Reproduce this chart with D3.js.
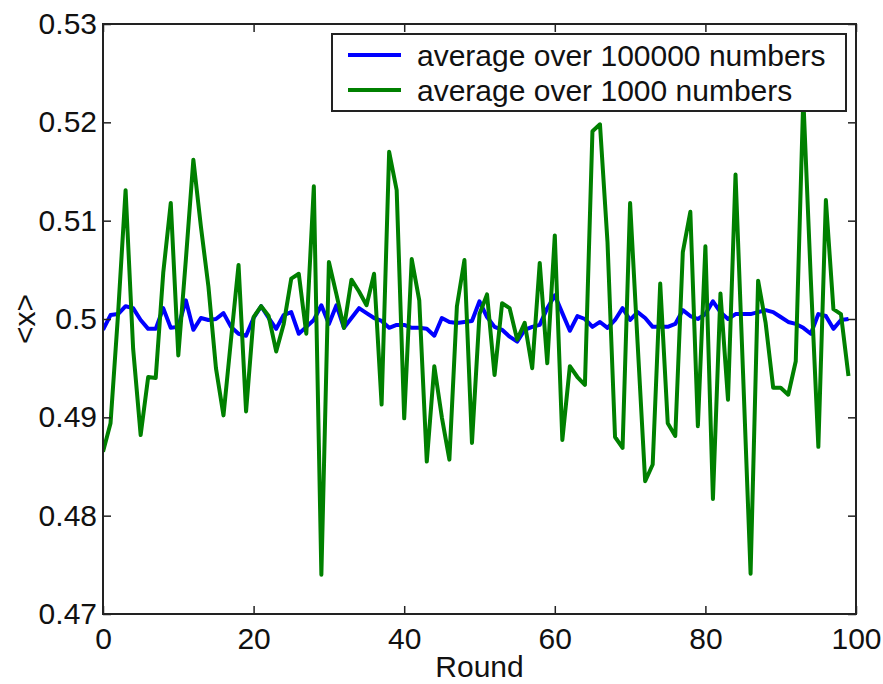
<!DOCTYPE html>
<html>
<head>
<meta charset="utf-8">
<script src="https://cdn.jsdelivr.net/npm/d3@7"></script>
<style>
  html, body { margin: 0; padding: 0; background: #fff; }
  svg { display: block; }
  text { font-family: "Liberation Sans", Arial, sans-serif; fill: #111; }
</style>
</head>
<body>
<svg id="chart"></svg>
<script>
// averages per round
const avg100000 = [
  0.4989, 0.5004, 0.5005, 0.5013, 0.5011, 0.4999, 0.4990, 0.4990, 0.5011, 0.4991,
  0.4992, 0.5019, 0.4989, 0.5001, 0.4999, 0.5000, 0.5006, 0.4992, 0.4985, 0.4983,
  0.5001, 0.5013, 0.5001, 0.4990, 0.5004, 0.5007, 0.4985, 0.4992, 0.4999, 0.5014,
  0.4995, 0.5014, 0.4991, 0.5001, 0.5011, 0.5006, 0.5001, 0.4998, 0.4991, 0.4994,
  0.4994, 0.4991, 0.4991, 0.4990, 0.4983, 0.5001, 0.4997, 0.4996, 0.4997, 0.4998,
  0.5018, 0.5002, 0.4992, 0.4989, 0.4982, 0.4977, 0.4989, 0.4992, 0.4994, 0.5011,
  0.5024, 0.5006, 0.4988, 0.5003, 0.5000, 0.4992, 0.4997, 0.4991, 0.4999, 0.5011,
  0.4999, 0.5007, 0.5001, 0.4992, 0.4992, 0.4992, 0.4995, 0.5009, 0.5003, 0.5000,
  0.5005, 0.5018, 0.5007, 0.5000, 0.5005, 0.5005, 0.5005, 0.5007, 0.5009, 0.5007,
  0.5002, 0.4997, 0.4995, 0.4991, 0.4985, 0.5005, 0.5003, 0.4990, 0.4999, 0.5000
];
const avg1000 = [
  0.4865, 0.4894, 0.5005, 0.5131, 0.4970, 0.4882, 0.4941, 0.4940, 0.5047, 0.5118,
  0.4963, 0.5060, 0.5162, 0.5094, 0.5033, 0.4950, 0.4902, 0.4979, 0.5055, 0.4906,
  0.5002, 0.5013, 0.5003, 0.4967, 0.4995, 0.5041, 0.5046, 0.4985, 0.5135, 0.4740,
  0.5058, 0.5025, 0.4991, 0.5040, 0.5028, 0.5014, 0.5046, 0.4913, 0.5170, 0.5131,
  0.4899, 0.5061, 0.5019, 0.4855, 0.4952, 0.4900, 0.4857, 0.5013, 0.5060, 0.4874,
  0.5005, 0.5025, 0.4943, 0.5016, 0.5011, 0.4979, 0.4996, 0.4950, 0.5057, 0.4955,
  0.5085, 0.4877, 0.4952, 0.4941, 0.4933, 0.5191, 0.5198, 0.5078, 0.4880, 0.4869,
  0.5118, 0.4975, 0.4835, 0.4852, 0.5036, 0.4894, 0.4881, 0.5068, 0.5109, 0.4891,
  0.5074, 0.4817, 0.5026, 0.4918, 0.5147, 0.4945, 0.4741, 0.5039, 0.4996, 0.4930,
  0.4930, 0.4923, 0.4957, 0.5225, 0.5040, 0.4870, 0.5121, 0.5010, 0.5005, 0.4942
];
const seriesNames = ["average over 100000 numbers", "average over 1000 numbers"];
const seriesColors = ["#0000ff", "#008000"];
const xTicks = [0, 20, 40, 60, 80, 100];
const yTicks = [0.47, 0.48, 0.49, 0.50, 0.51, 0.52, 0.53];
const yTickLabels = ["0.47", "0.48", "0.49", "0.5", "0.51", "0.52", "0.53"];

const width = 883, height = 684;
const margin = { top: 24, right: 27, bottom: 70, left: 103 };
const w = width - margin.left - margin.right;
const h = height - margin.top - margin.bottom;

const svg = d3.select("#chart").attr("width", width).attr("height", height);

const x = d3.scaleLinear().domain([0, 100]).range([0, w]);
const y = d3.scaleLinear().domain([0.47, 0.53]).range([h, 0]);

const g = svg.append("g").attr("transform", `translate(${margin.left},${margin.top})`);

g.append("clipPath").attr("id", "clip")
  .append("rect").attr("width", w).attr("height", h);

// lines (green drawn last, on top)
const line = d3.line().x((d, i) => x(i)).y(d => y(d));
[avg100000, avg1000].forEach((s, k) => {
  g.append("path")
    .datum(s)
    .attr("clip-path", "url(#clip)")
    .attr("fill", "none")
    .attr("stroke", seriesColors[k])
    .attr("stroke-width", 4)
    .attr("stroke-linejoin", "round")
    .attr("d", line);
});

// axes with inward ticks, mirrored on top and right
const tickLen = 8;
const fmt = (d) => yTickLabels[yTicks.indexOf(d)];
const style = sel => {
  sel.select(".domain").remove();
  sel.selectAll(".tick line").attr("stroke", "#222").attr("stroke-width", 1.5);
  sel.selectAll(".tick text").attr("font-size", 30).attr("fill", "#111")
    .attr("font-family", '"Liberation Sans", Arial, sans-serif');
};

g.append("g").attr("transform", `translate(0,${h})`)
  .call(d3.axisBottom(x).tickValues(xTicks).tickSize(-tickLen).tickPadding(14))
  .call(style);
g.append("g")
  .call(d3.axisTop(x).tickValues(xTicks).tickSize(-tickLen).tickFormat(""))
  .call(style);
g.append("g")
  .call(d3.axisLeft(y).tickValues(yTicks).tickSize(-tickLen).tickPadding(6).tickFormat(fmt))
  .call(style);
g.append("g").attr("transform", `translate(${w},0)`)
  .call(d3.axisRight(y).tickValues(yTicks).tickSize(-tickLen).tickFormat(""))
  .call(style);

g.append("rect")
  .attr("width", w).attr("height", h)
  .attr("fill", "none").attr("stroke", "#222").attr("stroke-width", 2);

// axis labels
svg.append("text")
  .attr("x", margin.left + w / 2).attr("y", 677)
  .attr("text-anchor", "middle").attr("font-size", 30)
  .text("Round");

svg.append("text")
  .attr("transform", `translate(35,${margin.top + y(0.5)}) rotate(-90)`)
  .attr("text-anchor", "middle").attr("font-size", 30)
  .text("<x>");

// legend
const legend = svg.append("g").attr("transform", "translate(332,34)");
legend.append("rect")
  .attr("width", 514).attr("height", 77)
  .attr("fill", "#fff").attr("stroke", "#222").attr("stroke-width", 2);
seriesNames.forEach((name, k) => {
  const cy = 21 + k * 35;
  legend.append("line")
    .attr("x1", 16).attr("x2", 69).attr("y1", cy).attr("y2", cy)
    .attr("stroke", seriesColors[k]).attr("stroke-width", 4);
  legend.append("text")
    .attr("x", 85).attr("y", cy + 10.5)
    .attr("font-size", 30)
    .text(name);
});
</script>
</body>
</html>
